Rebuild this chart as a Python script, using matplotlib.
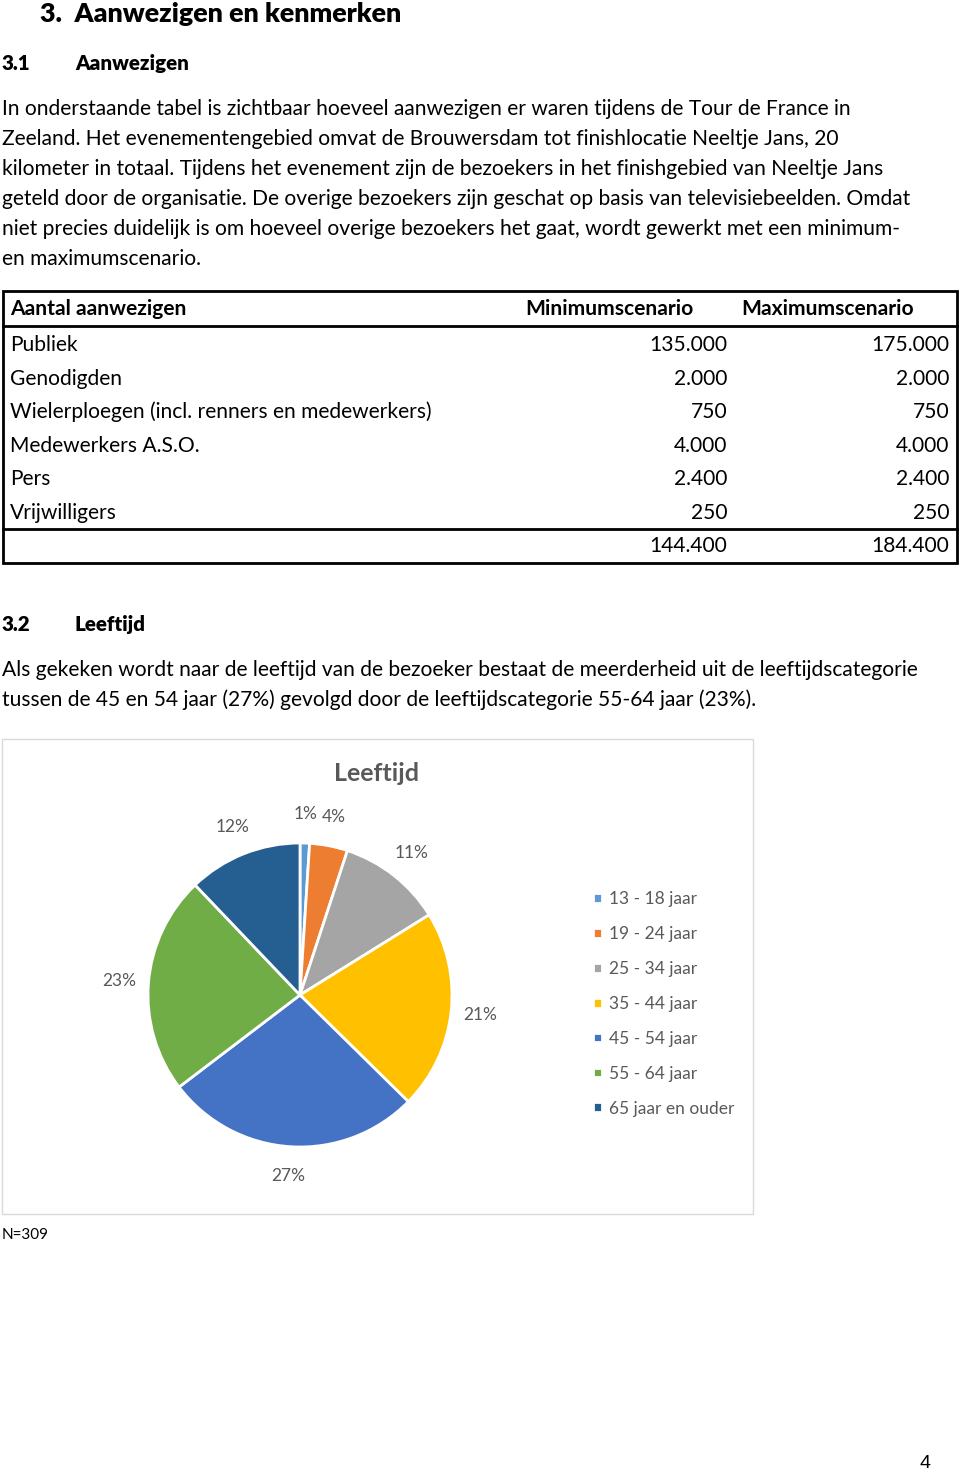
import matplotlib.pyplot as plt
from matplotlib.patches import Rectangle

plt.rcParams['font.family'] = ['Lato', 'DejaVu Sans']

# table data
row_names = ["Publiek", "Genodigden", "Wielerploegen (incl. renners en medewerkers)",
             "Medewerkers A.S.O.", "Pers", "Vrijwilligers"]
min_scenario = [135000, 2000, 750, 4000, 2400, 250]
max_scenario = [175000, 2000, 750, 4000, 2400, 250]

# pie data
age_groups = ["13 - 18 jaar", "19 - 24 jaar", "25 - 34 jaar", "35 - 44 jaar",
              "45 - 54 jaar", "55 - 64 jaar", "65 jaar en ouder"]
age_share = [1, 4, 11, 21, 27, 23, 12]
age_colors = ["#5B9BD5", "#ED7D31", "#A5A5A5", "#FFC000", "#4472C4", "#70AD47", "#255E91"]

para1 = [
    "In onderstaande tabel is zichtbaar hoeveel aanwezigen er waren tijdens de Tour de France in",
    "Zeeland. Het evenementengebied omvat de Brouwersdam tot finishlocatie Neeltje Jans, 20",
    "kilometer in totaal. Tijdens het evenement zijn de bezoekers in het finishgebied van Neeltje Jans",
    "geteld door de organisatie. De overige bezoekers zijn geschat op basis van televisiebeelden. Omdat",
    "niet precies duidelijk is om hoeveel overige bezoekers het gaat, wordt gewerkt met een minimum-",
    "en maximumscenario.",
]
para2 = [
    "Als gekeken wordt naar de leeftijd van de bezoeker bestaat de meerderheid uit de leeftijdscategorie",
    "tussen de 45 en 54 jaar (27%) gevolgd door de leeftijdscategorie 55-64 jaar (23%).",
]


def fmt(n):
    return f"{n:,}".replace(",", ".")


W, H = 960, 1474
fig = plt.figure(figsize=(W / 100, H / 100), dpi=100)
page = fig.add_axes([0, 0, 1, 1])
page.set_xlim(0, W)
page.set_ylim(H, 0)
page.axis("off")

body = 15.1

# headings
page.text(40, 14, "3.  Aanwezigen en kenmerken", fontsize=19.4, fontweight="heavy", va="center")
page.text(2, 63, "3.1", fontsize=14.8, fontweight="heavy", va="center")
page.text(75, 63, "Aanwezigen", fontsize=14.8, fontweight="heavy", va="center")

for i, line in enumerate(para1):
    page.text(2, 109 + i * 29.9, line, fontsize=body, va="center")

# table
page.add_patch(Rectangle((3, 291), 954, 272, fill=False, lw=2, ec="black"))
page.plot([3, 957], [326, 326], color="black", lw=2)
page.plot([3, 957], [529, 529], color="black", lw=2)
page.text(10, 309, "Aantal aanwezigen", fontsize=body, fontweight="bold", va="center")
page.text(525, 309, "Minimumscenario", fontsize=body, fontweight="bold", va="center")
page.text(741, 309, "Maximumscenario", fontsize=body, fontweight="bold", va="center")
for i, name in enumerate(row_names):
    y = 345 + i * 33.5
    page.text(10, y, name, fontsize=body, va="center")
    page.text(727, y, fmt(min_scenario[i]), fontsize=body, va="center", ha="right")
    page.text(949, y, fmt(max_scenario[i]), fontsize=body, va="center", ha="right")
page.text(727, 546, fmt(sum(min_scenario)), fontsize=body, va="center", ha="right")
page.text(949, 546, fmt(sum(max_scenario)), fontsize=body, va="center", ha="right")

# section 3.2
page.text(2, 624, "3.2", fontsize=14.8, fontweight="heavy", va="center")
page.text(75, 624, "Leeftijd", fontsize=14.8, fontweight="heavy", va="center")
for i, line in enumerate(para2):
    page.text(2, 670 + i * 29.9, line, fontsize=body, va="center")

# chart box
page.add_patch(Rectangle((2, 739), 751, 475, fill=False, lw=1, ec="#D9D9D9"))
page.text(377, 773, "Leeftijd", fontsize=18, fontweight="bold", color="#595959",
          va="center", ha="center")

cx, cy, r = 300, 995, 152
ax = fig.add_axes([(cx - r) / W, 1 - (cy + r) / H, 2 * r / W, 2 * r / H])
wedges, texts, autotexts = ax.pie(
    age_share, colors=age_colors, startangle=90, counterclock=False,
    autopct=lambda p: f"{p:.0f}%", pctdistance=1.19,
    wedgeprops=dict(edgecolor="white", linewidth=2),
    textprops=dict(color="#595959", fontsize=12.5),
)
ax.set_xlim(-1, 1)
ax.set_ylim(-1, 1)
ax.set_aspect("equal")

fig.legend(wedges, age_groups, loc="upper left",
           bbox_to_anchor=(593 / W, 1 - 891 / H), frameon=False,
           fontsize=12.5, labelcolor="#595959", handlelength=0.5, handleheight=0.5,
           handletextpad=0.45, labelspacing=1.09, borderpad=0, borderaxespad=0)

page.text(2, 1235, "N=309", fontsize=11, va="center")
page.text(925, 1463, "4", fontsize=14, va="center", ha="center", family="Liberation Sans")

fig.savefig("out.png", dpi=100)
